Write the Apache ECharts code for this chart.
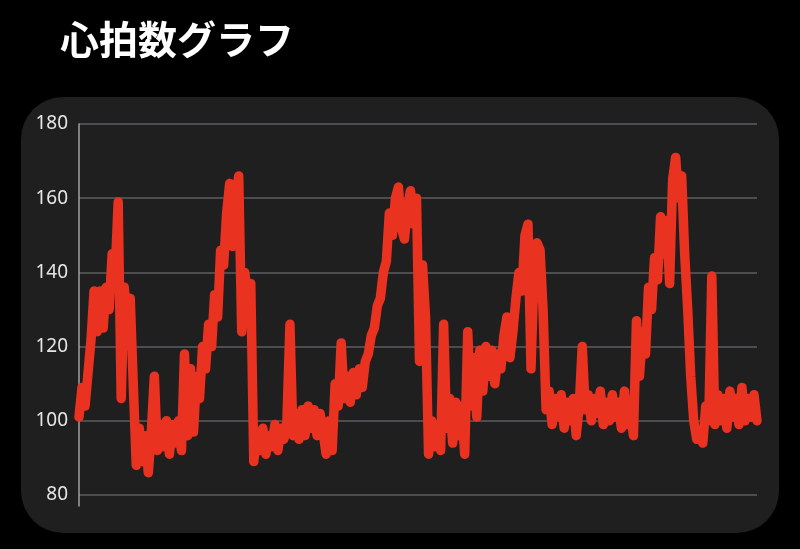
<!DOCTYPE html>
<html><head><meta charset="utf-8">
<style>html,body{margin:0;padding:0;background:#000;}#c{width:800px;height:549px;}</style>
<script src="https://cdn.jsdelivr.net/npm/echarts@6/dist/echarts.min.js"></script>
</head><body><div id="c"></div>
<script>
const titleText = '心拍数グラフ';
const yTicks = [80, 100, 120, 140, 160, 180];
const heartRate = [
101,109,104,113,122,135,124,135,125,136,130,145,140,159,106,136,128,133,110,88,
98,89,96,86,97,112,92,99,93,100,91,99,94,100,92,118,96,114,97,112,
106,120,114,126,120,134,128,146,142,156,164,147,160,166,124,140,133,137,89,97,
92,98,91,96,93,99,92,98,95,100,126,96,102,95,103,96,104,98,103,96,
102,97,91,100,92,110,104,121,106,112,105,113,107,114,109,116,118,123,125,131,
133,140,143,156,150,160,163,152,149,157,162,153,160,116,142,128,91,100,93,98,
92,126,98,106,94,105,96,104,91,124,104,117,101,119,108,120,112,119,110,118,
114,123,128,117,124,133,140,135,150,153,114,140,148,146,130,103,108,99,106,101,
107,98,105,100,106,96,104,120,103,107,100,106,102,108,99,105,100,107,101,105,
98,108,99,103,96,127,112,124,118,136,130,144,138,155,145,154,137,165,171,160,
166,145,130,112,100,95,97,94,104,100,139,99,107,100,106,98,108,101,106,99,
109,100,106,101,107,100
];
const categories = heartRate.map((v, i) => i);

const chart = echarts.init(document.getElementById('c'), null, {renderer: 'canvas'});
chart.setOption({
  backgroundColor: '#000000',
  animation: false,
  title: {
    text: titleText, left: 55, top: 15,
    textStyle: {color: '#ffffff', fontSize: 39, fontWeight: 'bold', fontFamily: 'Noto Sans CJK JP'}
  },
  graphic: [{
    type: 'rect', z: -10, silent: true,
    shape: {x: 21, y: 97, width: 758, height: 436, r: 42},
    style: {fill: '#1f1f1f'}
  }],
  grid: [
    {left: 79, right: 43, top: 124, bottom: 54},
    {left: 79, right: 43, top: 124, bottom: 43}
  ],
  xAxis: [
    {type: 'category', data: categories, boundaryGap: false, gridIndex: 0,
     axisLine: {show: false}, axisTick: {show: false}, axisLabel: {show: false}, splitLine: {show: false}},
    {type: 'value', gridIndex: 1, show: false, min: 0, max: 1}
  ],
  yAxis: [
    {type: 'value', gridIndex: 0, min: yTicks[0], max: yTicks[yTicks.length - 1], interval: 20,
     axisLine: {show: false}, axisTick: {show: false},
     axisLabel: {color: '#e6e6e6', fontSize: 19, margin: 11, fontFamily: 'Noto Sans'},
     splitLine: {lineStyle: {color: '#5e5e60', width: 1.5}}},
    {type: 'value', gridIndex: 1, min: 0, max: 1,
     axisLine: {show: true, onZero: false, lineStyle: {color: '#a0a0a0', width: 1.5}},
     axisTick: {show: false}, axisLabel: {show: false}, splitLine: {show: false}}
  ],
  series: [{
    type: 'line', xAxisIndex: 0, yAxisIndex: 0, data: heartRate,
    showSymbol: false, symbol: 'none', smooth: false,
    lineStyle: {color: '#e9321f', width: 9.5, cap: 'round', join: 'round'},
    z: 5
  }]
});
</script></body></html>
